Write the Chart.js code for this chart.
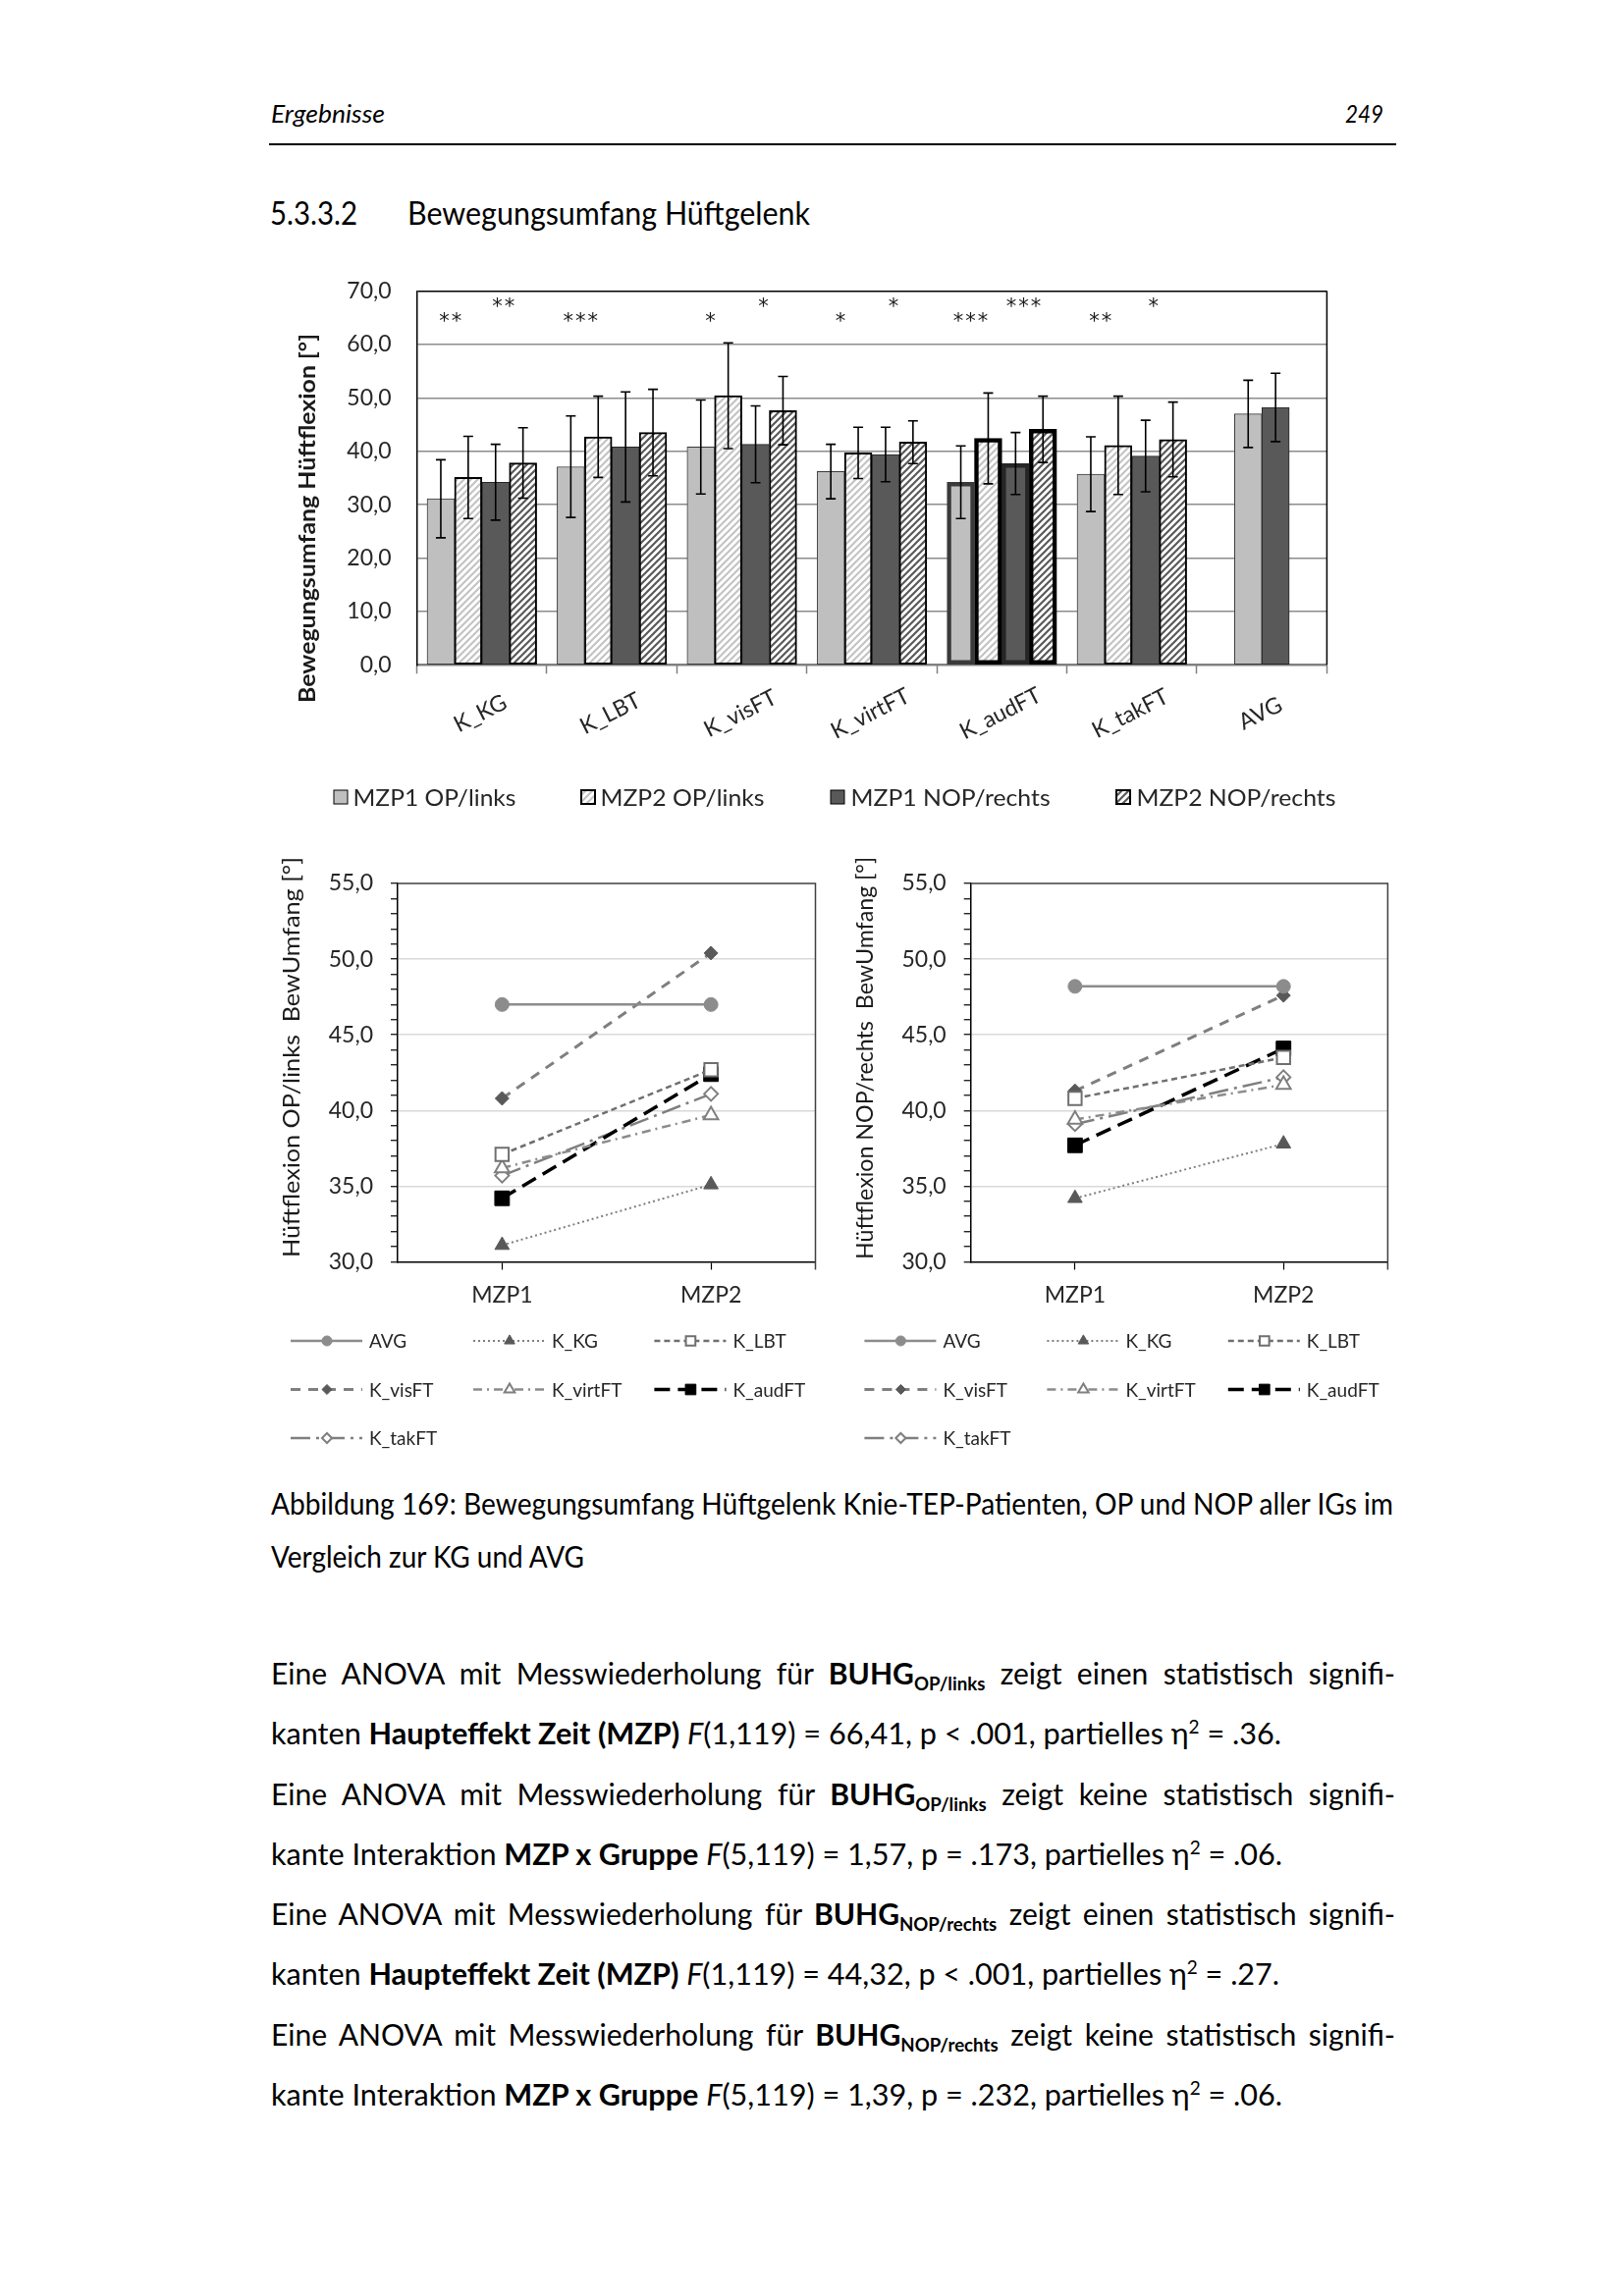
<!DOCTYPE html>
<html lang="de">
<head>
<meta charset="UTF-8" />
<meta name="viewport" content="width=device-width, initial-scale=1.0" />
<title>Bewegungsumfang Hüftgelenk</title>
<style>
  * { box-sizing: border-box; margin: 0; padding: 0; }
  body {
    width: 1654px; height: 2339px; background: #fff; color: #000;
    position: relative; overflow: hidden;
    font-family: Lato, 'Open Sans', 'DejaVu Sans', sans-serif;
  }
  .ln { position: absolute; white-space: nowrap; line-height: 1; transform-origin: 0 50%; }
  .hdr { font-size: 25px; font-style: italic; }
  .h3 { font-size: 33px; }
  .txt { font-size: 30px; }
  .ln sub, .ln sup { font-size: 0.62em; position: relative; vertical-align: baseline; line-height: 0; }
  .ln sub { top: 0.3em; }
  .ln sup { top: -0.62em; font-weight: normal; }
  .rule { position: absolute; left: 274px; top: 146px; width: 1148px; height: 2px; background: #000; }
  canvas { position: absolute; }
</style>
</head>
<body>
<div class="ln hdr" data-x="276" data-cy="116" data-w="116">Ergebnisse</div>
<div class="ln hdr" data-x="1370" data-cy="116" data-w="39">249</div>
<div class="rule"></div>
<div class="ln h3" data-x="275" data-cy="217" data-w="89">5.3.3.2</div>
<div class="ln h3" data-x="415" data-cy="217" data-w="410">Bewegungsumfang Hüftgelenk</div>

<canvas id="barChart" width="1150" height="600" style="left:250px;top:270px"></canvas>
<canvas id="lineOp" width="575" height="640" style="left:270px;top:870px"></canvas>
<canvas id="lineNop" width="585" height="640" style="left:850px;top:870px"></canvas>

<div class="ln txt" data-x="276" data-cy="1532" data-j="1143">Abbildung 169: Bewegungsumfang Hüftgelenk Knie-TEP-Patienten, OP und NOP aller IGs im</div>
<div class="ln txt" data-x="276" data-cy="1586" data-w="319">Vergleich zur KG und AVG</div>

<div class="ln txt" data-x="276" data-cy="1705" data-j="1145">Eine ANOVA mit Messwiederholung für <b>BUHG<sub>OP/links</sub></b> zeigt einen statistisch signifi-</div>
<div class="ln txt" data-x="276" data-cy="1766" data-w="1029">kanten <b>Haupteffekt Zeit (MZP)</b> <i>F</i>(1,119) = 66,41, p &lt; .001, partielles η<sup>2</sup> = .36.</div>
<div class="ln txt" data-x="276" data-cy="1828" data-j="1145">Eine ANOVA mit Messwiederholung für <b>BUHG<sub>OP/links</sub></b> zeigt keine statistisch signifi-</div>
<div class="ln txt" data-x="276" data-cy="1889" data-w="1030">kante Interaktion <b>MZP x Gruppe</b> <i>F</i>(5,119) = 1,57, p = .173, partielles η<sup>2</sup> = .06.</div>
<div class="ln txt" data-x="276" data-cy="1950" data-j="1145">Eine ANOVA mit Messwiederholung für <b>BUHG<sub>NOP/rechts</sub></b> zeigt einen statistisch signifi-</div>
<div class="ln txt" data-x="276" data-cy="2011" data-w="1027">kanten <b>Haupteffekt Zeit (MZP)</b> <i>F</i>(1,119) = 44,32, p &lt; .001, partielles η<sup>2</sup> = .27.</div>
<div class="ln txt" data-x="276" data-cy="2073" data-j="1145">Eine ANOVA mit Messwiederholung für <b>BUHG<sub>NOP/rechts</sub></b> zeigt keine statistisch signifi-</div>
<div class="ln txt" data-x="276" data-cy="2134" data-w="1030">kante Interaktion <b>MZP x Gruppe</b> <i>F</i>(5,119) = 1,39, p = .232, partielles η<sup>2</sup> = .06.</div>

<script src="https://cdn.jsdelivr.net/npm/chart.js"></script>
<script>
// values
const categories = ['K_KG', 'K_LBT', 'K_visFT', 'K_virtFT', 'K_audFT', 'K_takFT', 'AVG'];
const timePoints = ['MZP1', 'MZP2'];
const barSeries = ['MZP1 OP/links', 'MZP2 OP/links', 'MZP1 NOP/rechts', 'MZP2 NOP/rechts'];

const opMzp1  = [31.1, 37.1, 40.8, 36.2, 34.2, 35.7, 47.0];
const opMzp2  = [35.1, 42.7, 50.4, 39.7, 42.4, 41.1, null];
const nopMzp1 = [34.2, 40.8, 41.3, 39.4, 37.7, 39.1, 48.2];
const nopMzp2 = [37.8, 43.5, 47.6, 41.7, 44.1, 42.2, null];

// standard deviations (error bars)
const opSd1  = [7.3, 9.5, 8.8, 5.1, 6.8, 7.0, 6.3];
const opSd2  = [7.7, 7.6, 9.9, 4.8, 8.5, 9.2, null];
const nopSd1 = [7.1, 10.3, 7.2, 5.1, 5.8, 6.7, 6.4];
const nopSd2 = [6.6, 8.1, 6.4, 4.0, 6.2, 7.0, null];

// significance marks: OP (MZP1 vs MZP2) and NOP
const sigOp  = ['**', '***', '*', '*', '***', '**', ''];
const sigNop = ['**', '', '*', '*', '***', '*', ''];

const barYTicks  = [0, 10, 20, 30, 40, 50, 60, 70];
const lineYTicks = [30, 35, 40, 45, 50, 55];

// legend order of the line charts (index into categories)
const lineOrder = [6, 0, 1, 2, 3, 4, 5];

const FONT = "Lato, 'Open Sans', sans-serif";
Chart.defaults.font.family = FONT;
Chart.defaults.font.size = 23;
Chart.defaults.color = '#262626';

const fmt = v => v.toFixed(1).replace('.', ',');

function hatch(color) {
  const c = document.createElement('canvas');
  c.width = c.height = 7;
  const g = c.getContext('2d');
  g.fillStyle = '#fff';
  g.fillRect(0, 0, 7, 7);
  g.strokeStyle = color;
  g.lineWidth = 2.2;
  g.beginPath();
  g.moveTo(0, 7); g.lineTo(7, 0);
  g.moveTo(-1, 1); g.lineTo(1, -1);
  g.moveTo(6, 8); g.lineTo(8, 6);
  g.stroke();
  return g.createPattern(c, 'repeat');
}

// text centred on its cap height, optionally squeezed to a width
function fitText(ctx, text, x, y, width, font, color, angle = 0, align = 'center') {
  ctx.save();
  ctx.font = font;
  ctx.fillStyle = color;
  ctx.translate(x, y);
  ctx.rotate(angle);
  const w = ctx.measureText(text).width;
  const cap = ctx.measureText('H').actualBoundingBoxAscent;
  if (width) ctx.scale(width / w, 1);
  ctx.textBaseline = 'alphabetic';
  ctx.textAlign = 'left';
  ctx.fillText(text, align === 'center' ? -w / 2 : 0, cap / 2);
  ctx.restore();
}

const lightHatch = hatch('#c4c4c4');
const darkHatch = hatch('#5a5a5a');

// ---------- bar chart ----------
const BAR = { left: 250, top: 270 };

const barExtras = {
  id: 'barExtras',
  afterDatasetsDraw(chart) {
    const { ctx, scales: { y } } = chart;
    ctx.save();
    ctx.strokeStyle = '#000';
    ctx.lineWidth = 1.6;
    chart.data.datasets.forEach((ds, di) => {
      const meta = chart.getDatasetMeta(di);
      ds.data.forEach((v, i) => {
        const sd = ds.sd[i];
        if (v == null || sd == null) return;
        const bx = meta.data[i].x;
        const t = y.getPixelForValue(v + sd), b = y.getPixelForValue(v - sd);
        ctx.beginPath();
        ctx.moveTo(bx, t); ctx.lineTo(bx, b);
        ctx.moveTo(bx - 5, t); ctx.lineTo(bx + 5, t);
        ctx.moveTo(bx - 5, b); ctx.lineTo(bx + 5, b);
        ctx.stroke();
      });
    });
    ctx.restore();
  },
  afterDraw(chart) {
    const { ctx, chartArea: a, scales: { x } } = chart;
    // right border
    ctx.save();
    ctx.strokeStyle = '#000';
    ctx.lineWidth = 1.5;
    ctx.beginPath();
    ctx.moveTo(a.right, a.top); ctx.lineTo(a.right, a.bottom);
    ctx.stroke();
    ctx.restore();

    // stars
    ctx.save();
    ctx.font = "21px 'DejaVu Sans', sans-serif";
    ctx.fillStyle = '#1a1a1a';
    ctx.textAlign = 'center';
    const m = ctx.measureText('*');
    const off = (m.actualBoundingBoxAscent - m.actualBoundingBoxDescent) / 2;
    const stars = (s, cx, cy) => {
      for (let k = 0; k < s.length; k++) ctx.fillText(s[k], cx + (k - (s.length - 1) / 2) * 12.5, cy + off);
    };
    categories.forEach((c, i) => {
      const cx = x.getPixelForValue(i);
      if (sigOp[i]) stars(sigOp[i], cx - 32, 323 - BAR.top);
      if (sigNop[i]) stars(sigNop[i], cx + 22, 308 - BAR.top);
    });
    ctx.restore();

    // rotated category labels
    categories.forEach((c, i) => {
      fitText(ctx, c, x.getPixelForValue(i) - 2, 726 - BAR.top, 0, '23px ' + FONT, '#262626', -0.47);
    });

    // y title
    fitText(ctx, 'Bewegungsumfang Hüftflexion [°]', 312 - BAR.left, 528 - BAR.top, 376,
      'bold 23px ' + FONT, '#1a1a1a', -Math.PI / 2);

    // legend
    const ly = 812 - BAR.top;
    const sw = [340, 592, 846, 1137], tx = [359.5, 611.5, 866.6, 1157.4], tw = [166, 167, 203, 203];
    chart.data.datasets.forEach((ds, i) => {
      ctx.save();
      ctx.fillStyle = ds.backgroundColor;
      ctx.fillRect(sw[i] - BAR.left, ly - 7, 14, 14);
      ctx.strokeStyle = '#000';
      ctx.lineWidth = i % 2 ? 2 : 1;
      ctx.strokeRect(sw[i] - BAR.left, ly - 7, 14, 14);
      ctx.restore();
      fitText(ctx, ds.label, tx[i] - BAR.left, ly, tw[i], '23px ' + FONT, '#262626', 0, 'left');
    });
  }
};

const thick = (thin) => c => (c.dataIndex === 4 ? 4.5 : thin);

new Chart(document.getElementById('barChart'), {
  type: 'bar',
  data: {
    labels: categories,
    datasets: [
      { label: barSeries[0], data: opMzp1, sd: opSd1, backgroundColor: '#bfbfbf', borderColor: '#3a3a3a', borderWidth: thick(1) },
      { label: barSeries[1], data: opMzp2, sd: opSd2, backgroundColor: lightHatch, borderColor: '#000', borderWidth: thick(2) },
      { label: barSeries[2], data: nopMzp1, sd: nopSd1, backgroundColor: '#595959', borderColor: '#262626', borderWidth: thick(1) },
      { label: barSeries[3], data: nopMzp2, sd: nopSd2, backgroundColor: darkHatch, borderColor: '#000', borderWidth: thick(2) }
    ]
  },
  options: {
    responsive: false,
    animation: false,
    devicePixelRatio: 1,
    layout: { padding: { left: 0, top: 26.5, right: 48.6, bottom: 0 } },
    datasets: { bar: { barThickness: 27.9, skipNull: true, borderSkipped: false } },
    plugins: { legend: { display: false }, tooltip: { enabled: false } },
    scales: {
      x: {
        afterFit: s => { s.height = 192.7; },
        ticks: { display: false },
        grid: { offset: true, drawOnChartArea: false, tickLength: 9, tickColor: '#808080', tickWidth: 1.5 },
        border: { color: '#808080', width: 2 }
      },
      y: {
        min: barYTicks[0],
        max: barYTicks[barYTicks.length - 1],
        afterFit: s => { s.width = 174.6; },
        ticks: { stepSize: barYTicks[1] - barYTicks[0], padding: 0, font: { lineHeight: 1 }, callback: fmt },
        // invisible tick marks keep the labels 26px off the axis
        grid: {
          color: c => (c.tick.value === 70 ? '#000' : '#8c8c8c'),
          lineWidth: 1.5, drawTicks: true, tickLength: 26, tickColor: 'rgba(0,0,0,0)'
        },
        border: { color: '#000', width: 1.5 }
      }
    }
  },
  plugins: [barExtras]
});

// ---------- line charts ----------
const lineStyles = [
  { color: '#8c8c8c', width: 2.5, dash: [], point: 'circle', radius: 7, fill: '#8c8c8c', stroke: '#8c8c8c', pbw: 1 },
  { color: '#7f7f7f', width: 2, dash: [2, 3], point: 'triangle', radius: 8.5, fill: '#595959', stroke: '#595959', pbw: 1 },
  { color: '#6f6f6f', width: 2.5, dash: [6, 4], point: 'rect', radius: 9.5, fill: '#ffffff', stroke: '#6f6f6f', pbw: 2 },
  { color: '#7f7f7f', width: 3, dash: [10, 8], point: 'rectRot', radius: 7, fill: '#595959', stroke: '#595959', pbw: 1 },
  { color: '#8c8c8c', width: 2.5, dash: [9, 5, 2, 5], point: 'triangle', radius: 8.5, fill: '#ffffff', stroke: '#7f7f7f', pbw: 2 },
  { color: '#000000', width: 3.5, dash: [16, 8], point: 'rect', radius: 10.5, fill: '#000000', stroke: '#000000', pbw: 1 },
  { color: '#7f7f7f', width: 2.5, dash: [20, 6, 3, 6], point: 'rectRot', radius: 7, fill: '#ffffff', stroke: '#7f7f7f', pbw: 2 }
];

function lineExtras(box, geo) {
  return {
    id: 'lineExtras',
    afterDraw(chart) {
      const { ctx, chartArea: a } = chart;
      ctx.save();
      ctx.strokeStyle = '#404040';
      ctx.lineWidth = 1.5;
      ctx.beginPath();
      ctx.moveTo(a.left, a.top); ctx.lineTo(a.right, a.top);
      ctx.lineTo(a.right, a.bottom + 8);
      ctx.stroke();
      ctx.restore();

      fitText(ctx, geo.title, geo.titleX - box.left, geo.titleY - box.top, geo.titleW,
        '24px ' + FONT, '#1a1a1a', -Math.PI / 2);

      const cols = geo.legendX, rows = [1366, 1415.5, 1465];
      chart.data.datasets.forEach((ds, k) => {
        const x0 = cols[k % 3] - box.left, y0 = rows[Math.floor(k / 3)] - box.top;
        ctx.save();
        ctx.strokeStyle = ds.borderColor;
        ctx.lineWidth = ds.borderWidth;
        ctx.setLineDash(ds.borderDash);
        ctx.beginPath();
        ctx.moveTo(x0, y0); ctx.lineTo(x0 + 73, y0);
        ctx.stroke();
        ctx.setLineDash([]);
        ctx.fillStyle = ds.pointBackgroundColor;
        ctx.strokeStyle = ds.pointBorderColor;
        ctx.lineWidth = ds.pointBorderWidth;
        Chart.helpers.drawPoint(ctx, {
          pointStyle: ds.pointStyle, radius: ds.pointRadius * 0.72, rotation: 0, borderWidth: ds.pointBorderWidth
        }, x0 + 37, y0);
        ctx.restore();
        fitText(ctx, ds.label, x0 + 80, y0, 0, '19px ' + FONT, '#262626', 0, 'left');
      });
    }
  };
}

function makeLineChart(id, box, mzp1, mzp2, geo) {
  const datasets = lineOrder.map((idx, k) => {
    const st = lineStyles[k];
    // AVG was measured once: flat line at its MZP1 value
    const second = mzp2[idx] == null ? mzp1[idx] : mzp2[idx];
    return {
      label: categories[idx],
      data: [mzp1[idx], second],
      borderColor: st.color, borderWidth: st.width, borderDash: st.dash,
      pointStyle: st.point, pointRadius: st.radius,
      pointBackgroundColor: st.fill, pointBorderColor: st.stroke, pointBorderWidth: st.pbw,
      fill: false, tension: 0
    };
  });
  new Chart(document.getElementById(id), {
    type: 'line',
    data: { labels: timePoints, datasets },
    options: {
      responsive: false,
      animation: false,
      devicePixelRatio: 1,
      layout: { padding: { left: 0, top: 30, right: geo.padRight, bottom: 0 } },
      plugins: { legend: { display: false }, tooltip: { enabled: false } },
      scales: {
        x: {
          offset: true,
          afterFit: s => { s.height = 224.5; },
          ticks: { padding: 12 },
          grid: { offset: false, drawOnChartArea: false, tickLength: 8, tickColor: '#000', tickWidth: 1.2 },
          border: { color: '#000', width: 1.5 }
        },
        y: {
          min: lineYTicks[0],
          max: lineYTicks[lineYTicks.length - 1],
          afterFit: s => { s.width = geo.yWidth; },
          ticks: {
            stepSize: 1, autoSkip: false, padding: 18, font: { lineHeight: 1 },
            callback: v => (lineYTicks.includes(v) ? fmt(v) : '')
          },
          grid: {
            color: c => (lineYTicks.includes(c.tick.value) && c.tick.value > 30 && c.tick.value < 55 ? '#d9d9d9' : 'rgba(0,0,0,0)'),
            lineWidth: 1.5, tickLength: 7, tickColor: '#000', tickWidth: 1.2
          },
          border: { color: '#000', width: 1.5 }
        }
      }
    },
    plugins: [lineExtras(box, geo)]
  });
}

const OP_BOX = { left: 270, top: 870 };
const NOP_BOX = { left: 850, top: 870 };

makeLineChart('lineOp', OP_BOX, opMzp1, opMzp2, {
  padRight: 14.5, yWidth: 135,
  title: 'Hüftflexion OP/links  BewUmfang [°]', titleX: 296, titleY: 1077, titleW: 408,
  legendX: [296, 482, 666.4]
});
makeLineChart('lineNop', NOP_BOX, nopMzp1, nopMzp2, {
  padRight: 21.6, yWidth: 138.7,
  title: 'Hüftflexion NOP/rechts  BewUmfang [°]', titleX: 880, titleY: 1078, titleW: 410,
  legendX: [880.4, 1066.4, 1250.8]
});

// ---------- page text: place lines, squeeze to the widths of the original ----------
function layoutText() {
  const lines = [...document.querySelectorAll('.ln')];
  lines.forEach(el => {
    const fs = parseFloat(getComputedStyle(el).fontSize);
    el.style.left = el.dataset.x + 'px';
    el.style.top = (el.dataset.cy - 0.53 * fs) + 'px';
    el.style.transform = '';
    el.style.wordSpacing = '';
  });
  const scales = [];
  lines.filter(el => el.dataset.w).forEach(el => {
    const s = el.dataset.w / el.getBoundingClientRect().width;
    if (el.classList.contains('txt')) scales.push(s);
    el.style.transform = `scaleX(${s})`;
  });
  const s = scales.reduce((p, q) => p + q, 0) / scales.length;
  lines.filter(el => el.dataset.j).forEach(el => {
    const w0 = el.getBoundingClientRect().width;
    const n = (el.textContent.match(/ /g) || []).length;
    const ws = (el.dataset.j / s - w0) / n;
    if (ws >= 0) {
      el.style.wordSpacing = ws + 'px';
      el.style.transform = `scaleX(${s})`;
    } else {
      // line too long at the common scale: squeeze this one a bit more
      el.style.transform = `scaleX(${el.dataset.j / w0})`;
    }
  });
}
layoutText();
if (document.fonts && document.fonts.ready) document.fonts.ready.then(layoutText);
</script>
</body>
</html>
